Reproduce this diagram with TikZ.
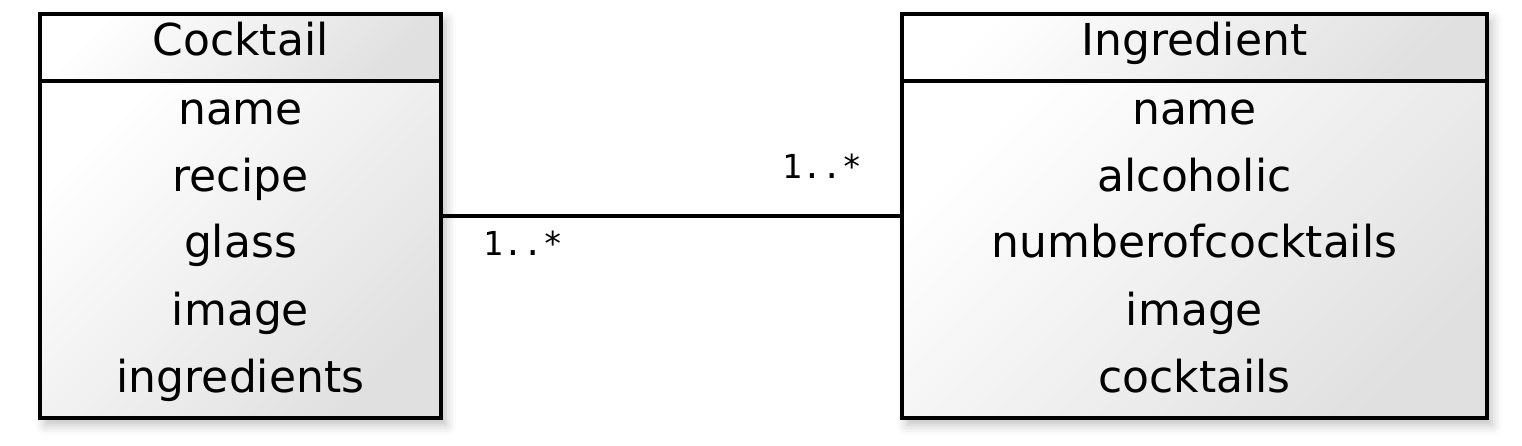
\documentclass[tikz,border=0pt]{standalone}
\usepackage{fontspec}
\setmainfont{DejaVu Sans}
\newfontfamily\multfont{DejaVu Sans Mono}
\usetikzlibrary{shadows.blur}
\begin{document}
\begin{tikzpicture}[x=1pt,y=-1pt,
  frame/.style={fill=white, inner sep=0pt, outer sep=0pt,
    blur shadow={shadow xshift=5pt, shadow yshift=-7pt, shadow blur radius=10pt, shadow opacity=25}},
  part/.style={draw=black, line width=4pt, inner sep=0pt, outer sep=0pt,
    top color=white, bottom color=black!12, shading angle=45},
  attr/.style={anchor=base, inner sep=0pt, font=\fontsize{44}{50}\selectfont},
  mult/.style={anchor=base west, inner sep=0pt, font=\multfont\fontsize{33}{33}\selectfont},
  assoc/.style={draw=black, line width=3.5pt}]
\useasboundingbox (0,0) rectangle (1522,446);
% Cocktail
\node[frame, minimum width=401pt, minimum height=404pt] (cocktail) at (240.5,216) {};
\node[part, minimum width=401pt, minimum height=67pt] (cocktailhead) at (240.5,47.5) {};
\node[part, minimum width=401pt, minimum height=337pt] (cocktailbody) at (240.5,249.5) {};
\node[attr] (ctitle) at (240.5,56) {Cocktail};
\node[attr] (c1) at (240.5,125) {name};
\node[attr] (c2) at (240.5,192) {recipe};
\node[attr] (c3) at (240.5,258) {glass};
\node[attr] (c4) at (240.5,325) {image};
\node[attr] (c5) at (240.5,392) {ingredients};
% Ingredient
\node[frame, minimum width=585pt, minimum height=404pt] (ingredient) at (1194.5,216) {};
\node[part, minimum width=585pt, minimum height=67pt] (ingredienthead) at (1194.5,47.5) {};
\node[part, minimum width=585pt, minimum height=337pt] (ingredientbody) at (1194.5,249.5) {};
\node[attr] (ititle) at (1194.5,56) {Ingredient};
\node[attr] (i1) at (1194.5,125) {name};
\node[attr] (i2) at (1194.5,192) {alcoholic};
\node[attr] (i3) at (1194.5,258) {numberofcocktails};
\node[attr] (i4) at (1194.5,325) {image};
\node[attr] (i5) at (1194.5,392) {cocktails};
% association
\draw[assoc] (cocktail.east) -- (ingredient.west);
\node[mult] (m1) at (483,255) {1..*};
\node[mult] (m2) at (782,179) {1..*};
\end{tikzpicture}
\end{document}
